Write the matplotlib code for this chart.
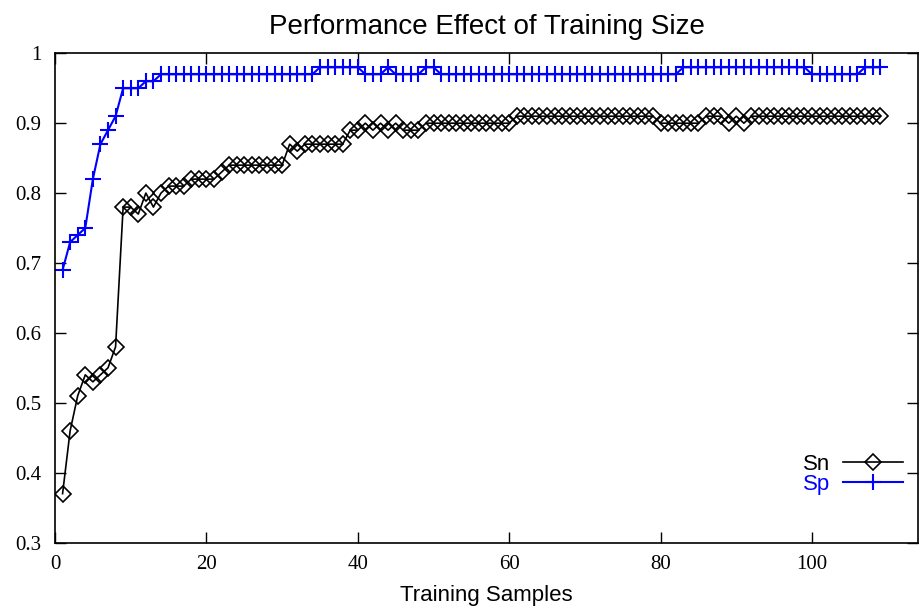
import matplotlib
matplotlib.use("Agg")
import matplotlib.pyplot as plt
import numpy as np

title = "Performance Effect of Training Size"
xlabel = "Training Samples"
series_names = ["Sn", "Sp"]

samples = list(range(1, 110))

sn = ([0.37, 0.46, 0.51, 0.54, 0.53, 0.54, 0.55, 0.58, 0.78, 0.78,
       0.77, 0.80, 0.78, 0.80, 0.81, 0.81, 0.81, 0.82, 0.82, 0.82,
       0.82, 0.83, 0.84, 0.84, 0.84, 0.84, 0.84, 0.84, 0.84, 0.84,
       0.87, 0.86, 0.87, 0.87, 0.87, 0.87, 0.87, 0.87, 0.89, 0.89,
       0.90, 0.89, 0.90, 0.89, 0.90, 0.89, 0.89, 0.89, 0.90, 0.90]
      + [0.90] * 10          # 51-60
      + [0.91] * 19          # 61-79
      + [0.90] * 6           # 80-85
      + [0.91, 0.91, 0.91, 0.90, 0.91, 0.90]  # 86-91
      + [0.91] * 18)         # 92-109

sp = ([0.69, 0.73, 0.74, 0.75, 0.82, 0.87, 0.89, 0.91, 0.95, 0.95,
       0.95, 0.96, 0.96]
      + [0.97] * 21          # 14-34
      + [0.98] * 6           # 35-40
      + [0.97] * 3           # 41-43
      + [0.98]               # 44
      + [0.97] * 4           # 45-48
      + [0.98] * 2           # 49-50
      + [0.97] * 32          # 51-82
      + [0.98] * 17          # 83-99
      + [0.97] * 7           # 100-106
      + [0.98] * 3)          # 107-109

xticks = [0, 20, 40, 60, 80, 100]
yticks = [0.3, 0.4, 0.5, 0.6, 0.7, 0.8, 0.9, 1.0]
ytick_labels = ["0.3", "0.4", "0.5", "0.6", "0.7", "0.8", "0.9", "1"]

fig = plt.figure(figsize=(9.2, 6.12), dpi=100)
ax = fig.add_axes([55/920, 1-542.6/612, (918-55)/920, (542.6-53.3)/612])

l1, = ax.plot(samples, sn, color="black", lw=1.2, marker="D", ms=8,
              mfc="none", mec="black", mew=1.2, label=series_names[0])
l2, = ax.plot(samples, sp, color="#0000ff", lw=1.5, marker="+", ms=12,
              mew=1.5, label=series_names[1])

ax.set_xlim(0, 114)
ax.set_ylim(0.3, 1.0)
ax.set_xticks(xticks)
ax.set_xticklabels([str(v) for v in xticks], family="Liberation Serif", fontsize=15)
ax.set_yticks(yticks)
ax.set_yticklabels(ytick_labels, family="Liberation Serif", fontsize=15)
ax.tick_params(direction="in", length=8, width=1, top=True, right=True,
               labeltop=False, labelright=False)
ax.tick_params(axis="x", pad=9)
ax.tick_params(axis="y", pad=10)
for s in ax.spines.values():
    s.set_linewidth(1.2)

ax.set_title(title, family="Liberation Sans", fontsize=20, pad=14)
ax.set_xlabel(xlabel, family="Liberation Sans", fontsize=16, labelpad=7.5)

leg = ax.legend(loc="lower right", bbox_to_anchor=(1.006, 0.057), frameon=False,
                markerfirst=False, handlelength=2.7, handletextpad=0.6,
                labelspacing=-0.05, prop={"family": "Liberation Sans", "size": 16},
                labelcolor="linecolor")

fig.savefig("out.png", dpi=100)
